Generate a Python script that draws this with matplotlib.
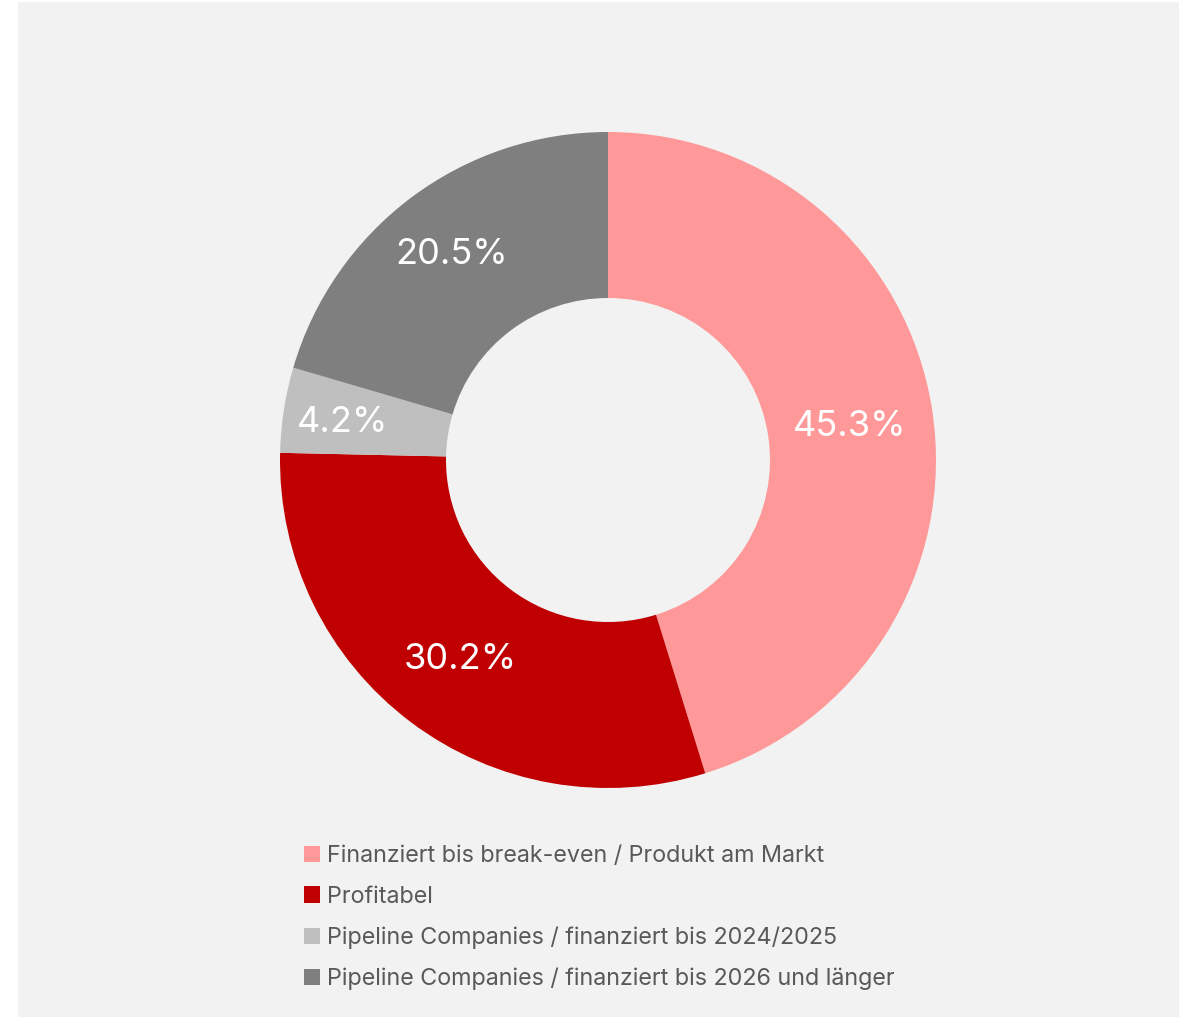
import matplotlib.pyplot as plt
from matplotlib.patches import Rectangle, Patch

# data
labels = ['Finanziert bis break-even / Produkt am Markt',
          'Profitabel',
          'Pipeline Companies / finanziert bis 2024/2025',
          'Pipeline Companies / finanziert bis 2026 und länger']
values = [45.3, 30.2, 4.2, 20.5]
colors = ['#FF9999', '#C00000', '#BFBFBF', '#7F7F7F']
label_dist = [0.745, 0.75, 0.82, 0.795]

plt.rcParams['font.family'] = ['Inter', 'DejaVu Sans']

W, H = 1186, 1018
fig = plt.figure(figsize=(W / 100, H / 100), dpi=100, facecolor='white')

# grey panel
fig.patches.append(Rectangle((18 / W, 1 - 1017 / H), (1179 - 18) / W, (1017 - 2) / H,
                             transform=fig.transFigure, facecolor='#F2F2F2',
                             edgecolor='none', zorder=-1))

# donut
ax = fig.add_axes([280 / W, 1 - 788 / H, 656 / W, 656 / H])
ax.set_zorder(2)
ax.set_facecolor('none')
wedges, texts, autotexts = ax.pie(
    values, colors=colors, startangle=90, counterclock=False,
    radius=1.0, wedgeprops=dict(width=1 - 162 / 328, edgecolor='none'),
    autopct='%.1f%%', pctdistance=1.0,
    textprops=dict(color='white', fontsize=26))
# labels show the given values, pushed in along the radius
for t, v, d in zip(autotexts, values, label_dist):
    x, y = t.get_position()
    t.set_position((x * d, y * d))
    t.set_text(f'{v:.1f}%')
    t.set_va('center_baseline')
ax.set_xlim(-1, 1)
ax.set_ylim(-1, 1)
ax.set_aspect('equal')
ax.axis('off')

# legend
handles = [Patch(facecolor=c, edgecolor='none') for c in colors]
leg = fig.legend(handles, labels, loc='upper left',
                 bbox_to_anchor=(304 / W, 1 - 845 / H),
                 frameon=False, fontsize=16.8, labelcolor='#595959',
                 handlelength=0.68, handleheight=0.68, handletextpad=0.3,
                 labelspacing=0.8, borderaxespad=0, borderpad=0)
leg.set_zorder(3)

fig.savefig('out.png', dpi=100, facecolor='white')
